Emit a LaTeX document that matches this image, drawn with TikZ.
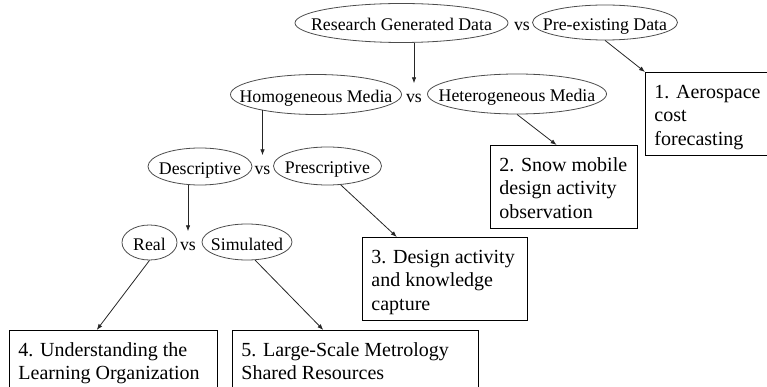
\documentclass[tikz,border=0pt]{standalone}
\usepackage{fontspec}
\setmainfont{Liberation Serif}
\usetikzlibrary{shapes.geometric,arrows.meta,calc}

% text sizes for the ovals and for the numbered cards
\newcommand\ovalfont{\fontsize{17.8pt}{21pt}\selectfont}
\newcommand\cardfont{\fontsize{20pt}{23.5pt}\selectfont}
% fixed-size card body: width, height, lines (top aligned, left padded)
\newcommand\cardtext[3]{\parbox[b][#2][t]{#1}{\cardfont\raggedright\leftskip=9pt\rule{0pt}{26pt}#3}}

\begin{document}
\begin{tikzpicture}[x=1pt,y=-1pt,
  oval/.style={ellipse, draw=black!70, line width=0.8pt, inner sep=0pt,
               text height=16pt, text depth=0pt, font=\ovalfont},
  versus/.style={inner xsep=0pt, inner ysep=3pt, text height=16pt,
                 text depth=0pt, font=\ovalfont},
  card/.style={draw=black, line width=0.9pt, inner sep=0pt, anchor=north west},
  arr/.style={draw=black!85, line width=0.8pt, -{Latex[length=6pt,width=4.5pt]}}]
\useasboundingbox (0,0) rectangle (767,387);
\clip (0,0) rectangle (767,387);

% first split: where the data comes from
\node[oval, minimum width=213pt, minimum height=39pt] (rgd) at (401.5,23) {\makebox[0pt]{Research Generated Data}};
\node[versus] (vs1) at (522,23) {vs};
\node[oval, minimum width=145pt, minimum height=35pt] (pre) at (605,22.5) {\makebox[0pt]{Pre-existing Data}};

% second split: kind of media
\node[oval, minimum width=171pt, minimum height=40pt] (hom) at (316,94.5) {\makebox[0pt]{Homogeneous Media}};
\node[versus] (vs2) at (414,94.5) {vs};
\node[oval, minimum width=179pt, minimum height=40pt] (het) at (517,94) {\makebox[0pt]{Heterogeneous Media}};

% third split: kind of study
\node[oval, minimum width=104pt, minimum height=37pt] (desc) at (200,166.5) {\makebox[0pt]{Descriptive}};
\node[versus] (vs3) at (262.5,166.5) {vs};
\node[oval, minimum width=108pt, minimum height=38pt] (pres) at (327.5,166) {\makebox[0pt]{Prescriptive}};

% fourth split: kind of setting
\node[oval, minimum width=55pt, minimum height=35pt] (real) at (149.5,242.5) {\makebox[0pt]{Real}};
\node[versus] (vs4) at (188,242.5) {vs};
\node[oval, minimum width=90pt, minimum height=36pt] (sim) at (247,242) {\makebox[0pt]{Simulated}};

% numbered case studies
\node[card] (c1) at (645,72)  {\cardtext{130pt}{83pt}{1. Aerospace\\cost\\forecasting}};
\node[card] (c2) at (490,145) {\cardtext{147pt}{83pt}{2. Snow mobile\\design activity\\observation}};
\node[card] (c3) at (362,237) {\cardtext{165pt}{83pt}{3. Design activity\\and knowledge\\capture}};
\node[card] (c4) at (9,330)   {\cardtext{208pt}{70pt}{4. Understanding the\\Learning Organization}};
\node[card] (c5) at (232,330) {\cardtext{246pt}{70pt}{5. Large-Scale Metrology\\Shared Resources}};

% connectors
\draw[arr] (rgd.south -| vs2) -- (vs2.north);
\draw[arr] (pre.south) -- (c1.north west);
\draw[arr] (vs3 |- hom.-164) -- (vs3.north);
\draw[arr] (het.south) -- ($(c2.north west)!0.45!(c2.north east)$);
\draw[arr] (desc.south -| vs4) -- (vs4.north);
\draw[arr] (pres.-55) -- ($(c3.north west)!0.21!(c3.north east)$);
\draw[arr] (real.south) -- ($(c4.north west)!0.42!(c4.north east)$);
\draw[arr] (sim.-66) -- ($(c5.north west)!0.37!(c5.north east)$);
\end{tikzpicture}
\end{document}
